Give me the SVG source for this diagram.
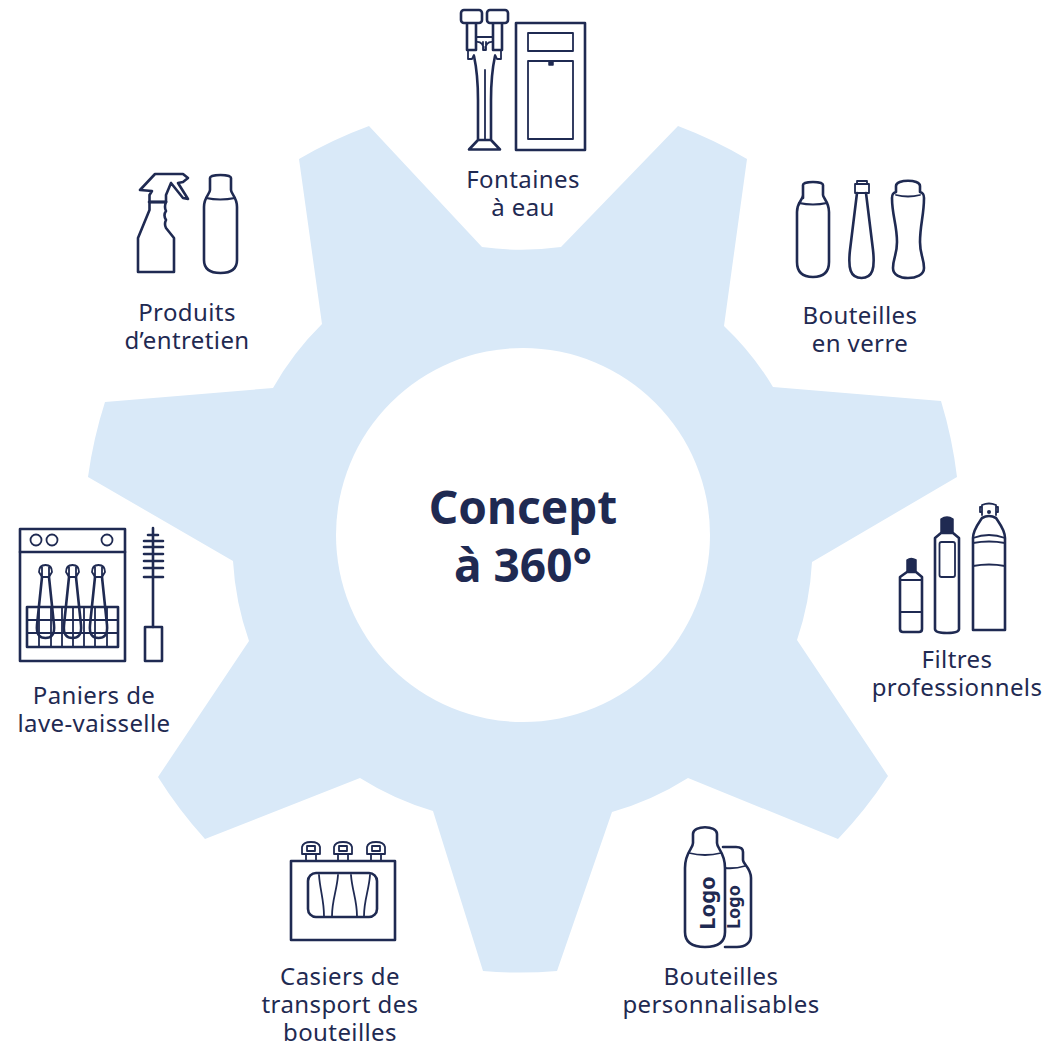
<svg xmlns="http://www.w3.org/2000/svg" width="1046" height="1046" viewBox="0 0 1046 1046">
<style>
.l{font-family:"Noto Sans","Liberation Sans",sans-serif;font-size:24px;fill:#1f2a52;text-anchor:middle;letter-spacing:.4px}
.t{font-family:"Noto Sans","Liberation Sans",sans-serif;font-size:46px;font-weight:700;fill:#1f2a52;text-anchor:middle}
.k{font-family:"Noto Sans","Liberation Sans",sans-serif;font-weight:700;fill:#1f2a52;text-anchor:middle}
.i{fill:none;stroke:#1f2a52;stroke-width:2.6;stroke-linejoin:round;stroke-linecap:round}
.s{fill:none;stroke:#1f2a52;stroke-width:1.8;stroke-linejoin:round;stroke-linecap:round}
.f{fill:#1f2a52;stroke:#1f2a52;stroke-width:1.5;stroke-linejoin:round}
</style>
<rect width="1046" height="1046" fill="#fff"/>
<g id="gear">
<path fill="#d9e9f8" d="M482 247A291 291 0 0 0 561 247L678 126A437 437 0 0 1 747 159L724 326A291 291 0 0 1 773 387L941 401A438 438 0 0 1 957 477L812 562A291 291 0 0 1 797 640L888 776A438 438 0 0 1 838 839L688 778A291 291 0 0 1 612 812L557 971A438 438 0 0 1 483 971L433 811A291 291 0 0 1 360 778L205 839A438 438 0 0 1 158 777L249 641A291 291 0 0 1 233 561L88 477A438 438 0 0 1 105 402L273 388A291 291 0 0 1 322 324L299 159A438 438 0 0 1 369 126Z"/>
<circle cx="523" cy="535" r="187" fill="#fff"/>
</g>
<g id="centre">
<text class="t" x="523" y="524">Concept</text>
<text class="t" x="523" y="582">à 360°</text>
</g>
<g id="fontaines">
<rect class="i" x="461" y="10" width="21" height="13" rx="3"/>
<rect class="i" x="487" y="10" width="21" height="13" rx="3"/>
<path class="i" d="M467 24V50H476V24M493 24V50H502V24"/>
<path class="s" d="M476 37H493M476 42a6 6 0 0 1 7 8M493 42a6 6 0 0 0-7 8M483 42V50H486V42M468 50V59H472L474 55M501 50V59H497L495 55"/>
<path class="i" d="M474 56C477 70 478 85 478 100V140L469 149.500H500L491 140V100C491 85 492 70 495 56M478 140H491"/>
<path class="s" d="M485 70V140"/>
<rect class="i" x="516" y="23" width="69" height="127"/>
<rect class="s" x="528" y="33" width="45" height="18"/>
<rect class="s" x="528" y="61" width="45" height="78"/>
<rect class="f" x="549" y="62" width="4" height="3"/>
<text class="l" x="523" y="188">Fontaines</text>
<text class="l" x="523" y="216">à eau</text>
</g>
<g id="bouteilles-verre">
<path class="i" d="M803 198V185C803 181 823 181 823 185V195C823 198 829 202 829 212V262C829 273 822 277 813 277C804 277 797 273 797 262V212C797 202 803 200 803 195"/>
<path class="s" d="M799 203Q813 206 827 203"/>
<path class="i" d="M857 193L850 250C848 268 850 278 861.500 278C873 278 875 268 873 250L866 193"/>
<rect class="s" x="855" y="184" width="14" height="9"/>
<path class="s" d="M857 184V181H867V184"/>
<path class="i" d="M896 192V186C896 179 920 179 920 186V192C923 193 924 194 924 198C924 215 920 225 920 242C920 255 924 258 924 268C924 275 916 278 908 278C900 278 893 275 893 268C893 258 897 255 897 242C897 225 892 215 892 198C892 194 893 193 896 192Z"/>
<path class="s" d="M896 195Q908 198 920 195"/>
<text class="l" x="860" y="324">Bouteilles</text>
<text class="l" x="860" y="352">en verre</text>
</g>
<g id="filtres">
<path class="f" d="M907 572V560Q911 557 916 560V572Z"/>
<path class="i" d="M907 572L900 577V629Q900 632 903 632H919Q922 632 922 629V577L916 572Z"/>
<path class="s" d="M900 580H922M900 612H922"/>
<path class="f" d="M941 533V519Q947 515 953 519V533Z"/>
<path class="i" d="M941 533L935 538V629Q935 633 947 633Q959 633 959 629V538L953 533Z"/>
<rect class="s" x="939.500" y="542" width="15.500" height="35" rx="2"/>
<path class="i" d="M982 518C978 524 973 530 973 538V630H1005V538C1005 530 1000 524 996 518Q989 514 982 518Z"/>
<path class="s" d="M982 515V505Q989 502 996 505V515M982 507H980V512H982M996 507H998V512H996M973 538Q989 532 1005 538M973 543Q989 540 1005 543M973 566Q989 563 1005 566"/>
<circle cx="989" cy="512" r="2" fill="#1f2a52"/>
<text class="l" x="957" y="668">Filtres</text>
<text class="l" x="957" y="696">professionnels</text>
</g>
<g id="personnalisables">
<path class="i" d="M723 847H736Q743 847 743 852V860C743 864 751 868 751 878V935C751 943 745 947 737 947H725"/>
<path class="s" d="M725 868Q735 869 745 866"/>
<path class="i" d="M693 843V834C693 825 717 825 717 834V843C717 849 725 852 725 868V932C725 942 718 947 705 947C692 947 685 942 685 932V868C685 852 693 849 693 843Z"/>
<path class="s" d="M689 853Q705 857 721 853"/>
<text class="k" font-size="22" transform="translate(715 903) rotate(-90)">Logo</text>
<text class="k" font-size="18" transform="translate(740 907) rotate(-90)">Logo</text>
<text class="l" x="721" y="985">Bouteilles</text>
<text class="l" x="721" y="1013">personnalisables</text>
</g>
<g id="casiers">
<rect class="i" x="291" y="861" width="104" height="79"/>
<rect class="i" x="308" y="873" width="69" height="44" rx="8"/>
<path class="s" d="M319 875C320 890 324 900 324 916M338 875C337 890 332 900 332 916M351 875C352 890 357 900 357 916M370 875C369 890 364 900 364 916"/>
<g id="cap1"><path class="s" d="M306 861V854H302V847Q303 842 311 842Q319 842 320 847V854H316V861M306 854H316M307 846H315V851H307Z"/></g>
<path class="s" d="M338 861V854H334V847Q335 842 343 842Q351 842 352 847V854H348V861M338 854H348M339 846H347V851H339Z"/>
<path class="s" d="M371 861V854H367V847Q368 842 376 842Q384 842 385 847V854H381V861M371 854H381M372 846H380V851H372Z"/>
<text class="l" x="340" y="985">Casiers de</text>
<text class="l" x="340" y="1013">transport des</text>
<text class="l" x="340" y="1041">bouteilles</text>
</g>
<g id="paniers">
<rect class="i" x="20" y="529" width="105" height="132"/>
<path class="i" d="M20 552H125"/>
<circle class="s" cx="36" cy="540" r="5.500"/><circle class="s" cx="52" cy="540" r="5.500"/><circle class="s" cx="107" cy="540" r="5.500"/>
<path class="s" d="M27 620H118M27 633H118M39 607V647M51 607V647M62 607V647M73 607V647M84 607V647M95 607V647M107 607V647"/>
<rect class="i" x="27" y="607" width="91" height="40"/>
<path class="i" d="M42 577L37 625C36 635 40 638 45.500 638C51 638 55 635 54 625L49 577M69 577L64 625C63 635 67 638 72.500 638C78 638 82 635 81 625L76 577M95 577L90 625C89 635 93 638 98.500 638C104 638 108 635 107 625L102 577"/>
<path class="s" d="M39 572Q39 565 45.500 565Q52 565 52 572L49 577H42ZM66 572Q66 565 72.500 565Q79 565 79 572L76 577H69ZM92 572Q92 565 98.500 565Q105 565 105 572L102 577H95ZM42 566V576M49 566V576M69 566V576M76 566V576M95 566V576M102 566V576"/>
<path class="i" d="M153 528V627M148 535H158M144 541H163M144 547H163M144 554H163M144 561H163M144 568H163M144 577H163"/>
<rect class="i" x="145" y="627" width="17" height="34"/>
<text class="l" x="94" y="704">Paniers de</text>
<text class="l" x="94" y="732">lave-vaisselle</text>
</g>
<g id="produits">
<path class="i" d="M149.500 202V210L138 238V272H174V238L166 228Q164 224 166 220Q163 215 166 211Q164 207 166 202Z"/>
<path class="i" d="M149.500 202V195L152 191L140 190L155 174H183L188 178L183 182L178 183L188 199L183 198L175 188L171 183L166 195V202Z"/>
<path class="i" d="M149 202H166"/>
<path class="i" d="M210 190V178C210 174 231 174 231 178V190C231 194 237 197 237 207V260C237 269 231 273 220.500 273C210 273 204 269 204 260V207C204 197 210 194 210 190Z"/>
<path class="s" d="M206 198Q220 201 235 198"/>
<text class="l" x="187" y="321">Produits</text>
<text class="l" x="187" y="349">d’entretien</text>
</g>
</svg>
